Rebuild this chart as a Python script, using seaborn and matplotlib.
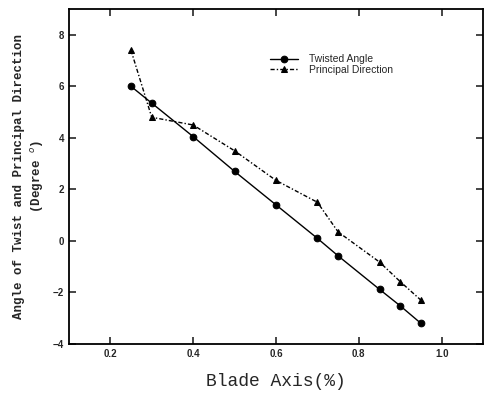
import matplotlib
matplotlib.use("Agg")
import matplotlib.pyplot as plt
import seaborn as sns
import pandas as pd

blade_axis = [0.25, 0.30, 0.40, 0.50, 0.60, 0.70, 0.75, 0.85, 0.90, 0.95]
twisted_angle = [6.0, 5.35, 4.05, 2.7, 1.4, 0.1, -0.58, -1.88, -2.52, -3.2]
principal_dir = [7.4, 4.8, 4.5, 3.5, 2.35, 1.5, 0.35, -0.82, -1.58, -2.3]
series_names = ["Twisted Angle", "Principal Direction"]

df = pd.concat([
    pd.DataFrame({"x": blade_axis, "y": twisted_angle, "series": series_names[0]}),
    pd.DataFrame({"x": blade_axis, "y": principal_dir, "series": series_names[1]}),
])

sns.set_style("ticks")
fig = plt.figure(figsize=(4.85, 3.94), dpi=100)
ax = fig.add_axes([0.142, 0.127, 0.854, 0.850])

sns.lineplot(data=df, x="x", y="y", hue="series", style="series",
             markers={"Twisted Angle": "o", "Principal Direction": "^"},
             dashes={"Twisted Angle": "", "Principal Direction": (3, 1.5, 1, 1.5)},
             palette={"Twisted Angle": "black", "Principal Direction": "black"},
             markersize=4.8, linewidth=1.0, markeredgecolor="black", ax=ax)

ax.set_xlim(0.1, 1.1)
ax.set_ylim(-4, 9)
ax.set_xticks([0.2, 0.4, 0.6, 0.8, 1.0])
ax.set_xticklabels(["0.2", "0.4", "0.6", "0.8", "1.0"])
ax.set_yticks([-4, -2, 0, 2, 4, 6, 8])
ax.tick_params(direction="in", top=True, right=True, length=5, width=1.2,
               labelsize=7)
for lab in ax.get_xticklabels() + ax.get_yticklabels():
    lab.set_fontweight("bold")
    lab.set_family("Liberation Sans")
for sp in ax.spines.values():
    sp.set_linewidth(1.3)
    sp.set_color("black")

ax.set_xlabel("Blade Axis(%)", family="Liberation Mono", fontsize=13, labelpad=10)
ax.set_ylabel("Angle of Twist and Principal Direction\n(Degree $^{o}$)",
              family="Liberation Mono", fontsize=9, fontweight="bold", labelpad=5,
              linespacing=1.3)

leg = ax.legend(loc="upper left", bbox_to_anchor=(0.486, 0.865), frameon=False,
                prop={"family": "Liberation Sans", "size": 7.5},
                handlelength=2.7, handletextpad=1.0, labelspacing=0.05,
                borderaxespad=0, borderpad=0)

fig.savefig("out.png", dpi=100)
